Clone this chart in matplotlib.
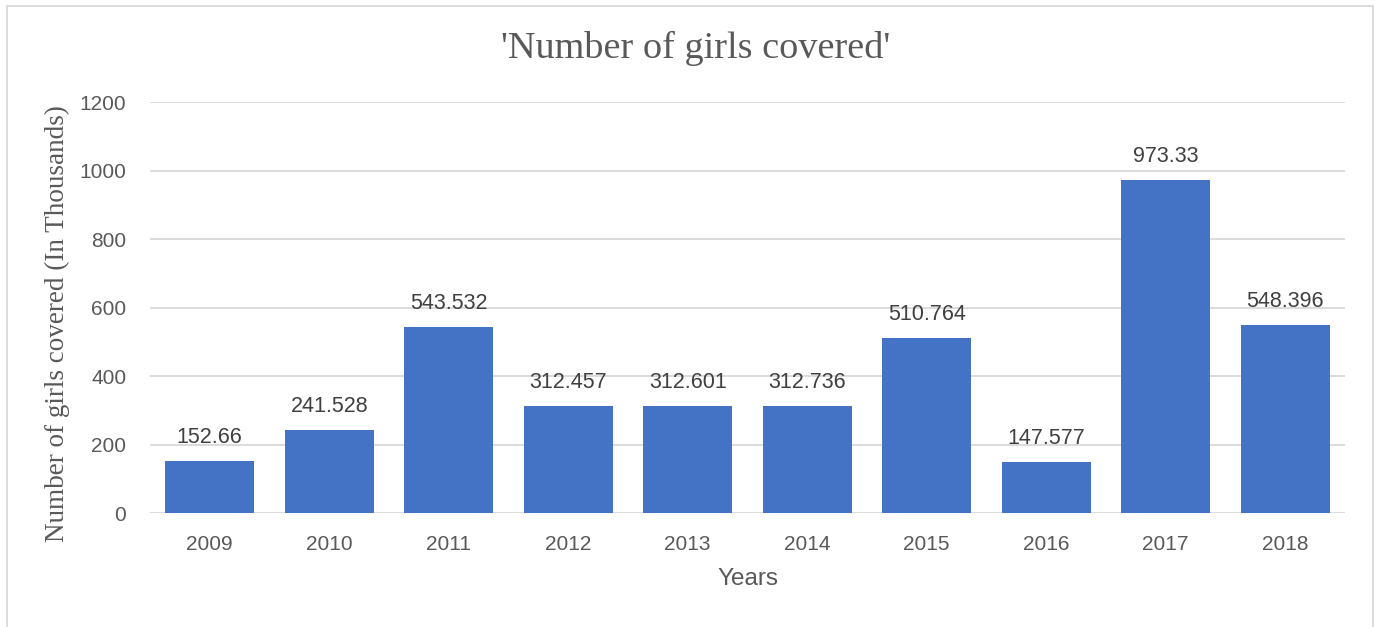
import matplotlib
matplotlib.use('Agg')
import matplotlib.pyplot as plt
from matplotlib.patches import Rectangle

years = ['2009', '2010', '2011', '2012', '2013', '2014', '2015', '2016', '2017', '2018']
girls = [152.66, 241.528, 543.532, 312.457, 312.601, 312.736, 510.764, 147.577, 973.33, 548.396]
labels = ['152.66', '241.528', '543.532', '312.457', '312.601', '312.736',
          '510.764', '147.577', '973.33', '548.396']

grey = '#595959'
sans = 'Liberation Sans'
serif = 'Liberation Serif'

fig = plt.figure(figsize=(13.82, 6.27), dpi=100)
ax = fig.add_axes([0.1085, 0.1818, 0.8647, 0.6555])

x = range(len(years))
ax.bar(x, girls, width=0.745, color='#4472C4', zorder=3)
for i, v in enumerate(girls):
    ax.text(i, v + 38, labels[i], ha='center', va='bottom', fontsize=15.5,
            family=sans, color='#404040')

ax.set_xlim(-0.5, len(years) - 0.5)
ax.set_ylim(0, 1200)
ax.set_yticks(range(0, 1201, 200))
ax.set_xticks(list(x))
ax.set_xticklabels(years)
ax.yaxis.grid(True, color='#d9d9d9', linewidth=1.3, zorder=0)
for s in ax.spines.values():
    s.set_visible(False)
ax.tick_params(length=0, labelsize=15, labelcolor=grey)
ax.tick_params(axis='x', pad=16)
ax.tick_params(axis='y', pad=17)
for t in ax.get_xticklabels() + ax.get_yticklabels():
    t.set_family(sans)

ax.set_xlabel('Years', fontsize=17.5, color=grey, family=sans, labelpad=10)
ax.set_ylabel('Number of girls covered (In Thousands)', fontsize=19.5, color=grey,
              family=serif)
ax.yaxis.set_label_coords(-0.067, 0.462)
fig.text(0.503, 0.923, "'Number of girls covered'", ha='center', va='center',
         fontsize=27.5, color=grey, family=serif)

fig.patches.append(Rectangle((7 / 1382, -0.01), 1366 / 1382, 1 - 6 / 627 + 0.01,
                             transform=fig.transFigure, fill=False,
                             edgecolor='#d9d9d9', linewidth=1.3))

fig.savefig('out.png', dpi=100)
